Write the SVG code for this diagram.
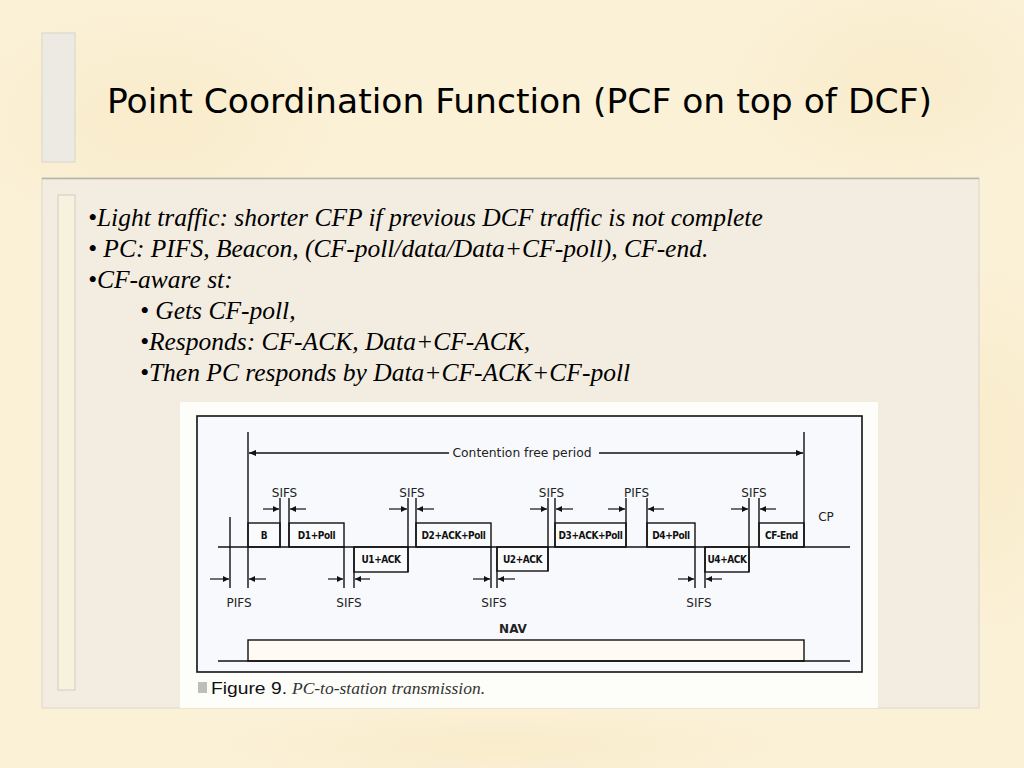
<svg xmlns="http://www.w3.org/2000/svg" width="1024" height="768" viewBox="0 0 1024 768">
<defs>
<radialGradient id="blot" cx="50%" cy="50%" r="50%">
<stop offset="0" stop-color="#F7E7C0" stop-opacity="0.5"/>
<stop offset="1" stop-color="#F7E7C0" stop-opacity="0"/>
</radialGradient>
<marker id="ah" viewBox="0 0 6 6" refX="6" refY="3" markerWidth="6" markerHeight="6" markerUnits="userSpaceOnUse" orient="auto">
<path d="M0,0 L6,3 L0,6 z" fill="#111"/>
</marker>
<marker id="ahb" viewBox="0 0 8 8" refX="8" refY="4" markerWidth="8" markerHeight="7" markerUnits="userSpaceOnUse" orient="auto">
<path d="M0,0.5 L8,4 L0,7.5 z" fill="#111"/>
</marker>
</defs>
<style>
.bul{font-family:"Liberation Serif","Times New Roman",serif;font-style:italic;font-size:25.5px;fill:#000}
.lbl{font-family:"DejaVu Sans","Liberation Sans",sans-serif;font-size:12px;fill:#222;text-anchor:middle}
.box{font-family:"DejaVu Sans Condensed","Liberation Sans",Arial,sans-serif;font-size:10px;fill:#111;text-anchor:middle;font-weight:bold;letter-spacing:-0.4px}
.ln{stroke:#111;stroke-width:1.4;fill:none}
.bx{stroke:#111;stroke-width:1.4;fill:#FAFBFD}
.ar{stroke:#111;stroke-width:1.2;fill:none;marker-end:url(#ah)}
</style>
<rect x="0" y="0" width="1024" height="768" fill="#FBF1D7"/>
<ellipse cx="150" cy="120" rx="200" ry="120" fill="url(#blot)"/>
<ellipse cx="900" cy="80" rx="180" ry="110" fill="url(#blot)"/>
<ellipse cx="990" cy="450" rx="100" ry="200" fill="url(#blot)"/>
<ellipse cx="500" cy="745" rx="300" ry="40" fill="url(#blot)"/>

<g id="title">
<rect x="42" y="33" width="33" height="129" fill="#ECEAE3" stroke="#D8D4C8" stroke-width="1"/>
<text x="107" y="113" font-family="DejaVu Sans, Verdana, sans-serif" font-size="33" fill="#000" textLength="825" lengthAdjust="spacingAndGlyphs">Point Coordination Function (PCF on top of DCF)</text>
</g>

<g id="panel">
<rect x="42" y="178" width="937" height="530" fill="#F3EDE1" stroke="#DCD6CA" stroke-width="1"/>
<line x1="42" y1="178.5" x2="979" y2="178.5" stroke="#B9B3A8" stroke-width="1.5"/>
<rect x="58" y="195" width="17" height="495" fill="#F8F1DE" stroke="#D2CCBF" stroke-width="1"/>
</g>

<g id="bullets">
<text class="bul" x="88" y="226">•Light traffic: shorter CFP if previous DCF traffic is not complete</text>
<text class="bul" x="88" y="257">• PC: PIFS, Beacon, (CF-poll/data/Data+CF-poll), CF-end.</text>
<text class="bul" x="88" y="288">•CF-aware st:</text>
<text class="bul" x="140" y="319">• Gets CF-poll,</text>
<text class="bul" x="140" y="350">•Responds: CF-ACK, Data+CF-ACK,</text>
<text class="bul" x="140" y="381">•Then PC responds by Data+CF-ACK+CF-poll</text>
</g>

<g id="figure">
<rect x="180" y="402" width="698" height="306" fill="#FDFDF9"/>
<rect x="197" y="416" width="665" height="256" fill="#F8F9FC" stroke="#111" stroke-width="1.6"/>
<rect x="198" y="682" width="9" height="11" fill="#BDBDBD"/>
<text x="211" y="694" font-family="Liberation Sans, Arial, sans-serif" font-size="16.5" fill="#111" textLength="76" lengthAdjust="spacingAndGlyphs">Figure 9.</text>
<text x="292" y="694" font-family="Liberation Serif, Times New Roman, serif" font-style="italic" font-size="16" fill="#333" textLength="193" lengthAdjust="spacingAndGlyphs">PC-to-station transmission.</text>
</g>

<g id="frames">
<g id="f-B"><rect class="bx" x="248" y="523" width="32" height="24"/><text class="box" x="264" y="539">B</text></g>
<g id="f-D1"><rect class="bx" x="289" y="523" width="55" height="24"/><text class="box" x="316.5" y="539">D1+Poll</text></g>
<g id="f-U1"><rect class="bx" x="354" y="547" width="54" height="25"/><text class="box" x="381" y="563">U1+ACK</text></g>
<g id="f-D2"><rect class="bx" x="416" y="523" width="75" height="24"/><text class="box" x="453.5" y="539">D2+ACK+Poll</text></g>
<g id="f-U2"><rect class="bx" x="497" y="547" width="51" height="24"/><text class="box" x="522.5" y="563">U2+ACK</text></g>
<g id="f-D3"><rect class="bx" x="555" y="523" width="71" height="24"/><text class="box" x="590.5" y="539">D3+ACK+Poll</text></g>
<g id="f-D4"><rect class="bx" x="647" y="523" width="48" height="24"/><text class="box" x="671" y="539">D4+Poll</text></g>
<g id="f-U4"><rect class="bx" x="705" y="547" width="44" height="25"/><text class="box" x="727" y="563">U4+ACK</text></g>
<g id="f-CFEnd"><rect class="bx" x="759" y="523" width="45" height="24"/><text class="box" x="781.5" y="539">CF-End</text></g>
<g id="f-NAV"><rect x="248" y="640" width="556" height="21" fill="#FFFBF3" stroke="#111" stroke-width="1.4"/><text class="lbl" x="513" y="633" font-weight="bold" font-size="12">NAV</text></g>
</g>

<g id="connectors">
<line class="ln" x1="218" y1="547" x2="850" y2="547"/>
<line class="ln" x1="218" y1="661" x2="850" y2="661"/>
<line class="ln" x1="248" y1="432" x2="248" y2="588"/>
<line class="ln" x1="804" y1="432" x2="804" y2="547"/>
<line class="ln" x1="230" y1="517" x2="230" y2="588"/>
<line x1="449" y1="453" x2="249" y2="453" stroke="#111" stroke-width="1.4" marker-end="url(#ahb)"/>
<line x1="599" y1="453" x2="803" y2="453" stroke="#111" stroke-width="1.4" marker-end="url(#ahb)"/>
<text class="lbl" x="522" y="456.5" font-size="11" textLength="139" lengthAdjust="spacingAndGlyphs">Contention free period</text>
<text class="lbl" x="826" y="521" font-size="12.5">CP</text>

<line class="ln" x1="280" y1="498" x2="280" y2="547"/><line class="ln" x1="289" y1="498" x2="289" y2="547"/>
<line class="ar" x1="263" y1="509" x2="279" y2="509"/><line class="ar" x1="306" y1="509" x2="290" y2="509"/>
<text class="lbl" x="284.5" y="497">SIFS</text>

<line class="ln" x1="408" y1="498" x2="408" y2="572"/><line class="ln" x1="416" y1="498" x2="416" y2="547"/>
<line class="ar" x1="389" y1="509" x2="407" y2="509"/><line class="ar" x1="434" y1="509" x2="417" y2="509"/>
<text class="lbl" x="412" y="497">SIFS</text>

<line class="ln" x1="548" y1="498" x2="548" y2="571"/><line class="ln" x1="555" y1="498" x2="555" y2="547"/>
<line class="ar" x1="530" y1="509" x2="547" y2="509"/><line class="ar" x1="573" y1="509" x2="556" y2="509"/>
<text class="lbl" x="551.5" y="497">SIFS</text>

<line class="ln" x1="626" y1="498" x2="626" y2="547"/><line class="ln" x1="647" y1="498" x2="647" y2="547"/>
<line class="ar" x1="608" y1="509" x2="625" y2="509"/><line class="ar" x1="664" y1="509" x2="648" y2="509"/>
<text class="lbl" x="636.5" y="497">PIFS</text>

<line class="ln" x1="749" y1="498" x2="749" y2="572"/><line class="ln" x1="759" y1="498" x2="759" y2="547"/>
<line class="ar" x1="731" y1="509" x2="748" y2="509"/><line class="ar" x1="776" y1="509" x2="760" y2="509"/>
<text class="lbl" x="754" y="497">SIFS</text>

<line class="ar" x1="210" y1="579" x2="229" y2="579"/><line class="ar" x1="266" y1="579" x2="249" y2="579"/>
<text class="lbl" x="239" y="607">PIFS</text>

<line class="ln" x1="344" y1="547" x2="344" y2="588"/><line class="ln" x1="354" y1="547" x2="354" y2="588"/>
<line class="ar" x1="328" y1="579" x2="343" y2="579"/><line class="ar" x1="370" y1="579" x2="355" y2="579"/>
<text class="lbl" x="349" y="607">SIFS</text>

<line class="ln" x1="491" y1="547" x2="491" y2="588"/><line class="ln" x1="497" y1="547" x2="497" y2="588"/>
<line class="ar" x1="473" y1="579" x2="490" y2="579"/><line class="ar" x1="515" y1="579" x2="498" y2="579"/>
<text class="lbl" x="494" y="607">SIFS</text>

<line class="ln" x1="695" y1="547" x2="695" y2="588"/><line class="ln" x1="705" y1="547" x2="705" y2="588"/>
<line class="ar" x1="678" y1="579" x2="694" y2="579"/><line class="ar" x1="722" y1="579" x2="706" y2="579"/>
<text class="lbl" x="699" y="607">SIFS</text>
</g>
</svg>
